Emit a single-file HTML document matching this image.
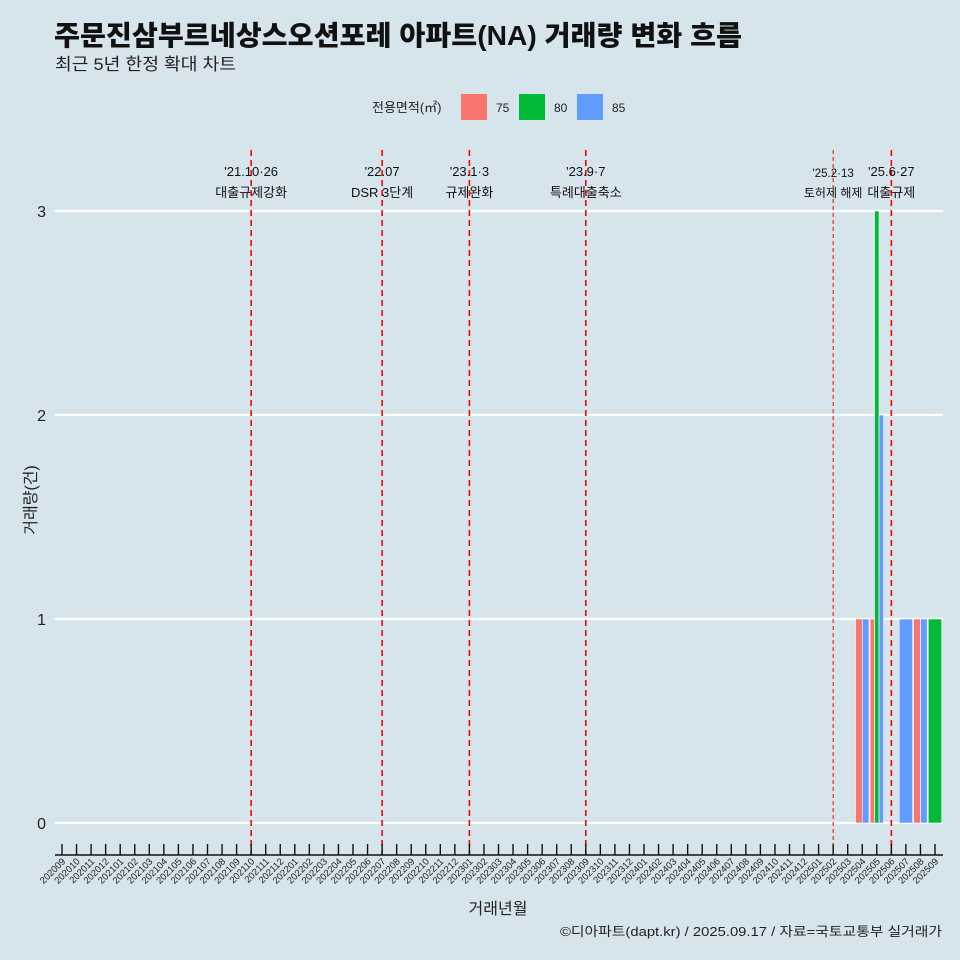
<!DOCTYPE html>
<html><head><meta charset="utf-8"><style>
body{margin:0;background:#d6e4eb;}
svg{display:block;font-family:"Liberation Sans","Noto Sans CJK KR",sans-serif;}
</style></head><body>
<svg width="960" height="960" viewBox="0 0 960 960">
<rect x="0" y="0" width="960" height="960" fill="#d6e4eb"/>
<text x="54" y="45" font-size="27.5" font-weight="900" fill="#111" textLength="688" lengthAdjust="spacingAndGlyphs">주문진삼부르네상스오션포레 아파트(NA) 거래량 변화 흐름</text>
<text x="55" y="70" font-size="17" fill="#222" textLength="181" lengthAdjust="spacingAndGlyphs">최근 5년 한정 확대 차트</text>
<g>
<text x="372" y="112" font-size="13" fill="#222">전용면적(㎡)</text>
<rect x="461" y="94" width="26" height="26" fill="#f8766d"/>
<text x="496" y="112" font-size="12" fill="#222">75</text>
<rect x="519" y="94" width="26" height="26" fill="#00ba38"/>
<text x="554" y="112" font-size="12" fill="#222">80</text>
<rect x="577" y="94" width="26" height="26" fill="#619cff"/>
<text x="612" y="112" font-size="12" fill="#222">85</text>
</g>
<g id="grid"></g><g id="bars"></g><g id="events"></g><g id="xaxis"></g>
<text x="36" y="500" font-size="16" fill="#222" transform="rotate(-90 36 500)" text-anchor="middle">거래량(건)</text>
<text x="498" y="914" font-size="16" fill="#222" text-anchor="middle">거래년월</text>
<text x="942" y="936" font-size="13" fill="#222" text-anchor="end" textLength="382" lengthAdjust="spacingAndGlyphs">©디아파트(dapt.kr) / 2025.09.17 / 자료=국토교통부 실거래가</text>
</svg>
<script>
const months=[];for(let y=2020;y<=2025;y++)for(let m=1;m<=12;m++){const k=y*100+m;if(k>=202009&&k<=202509)months.push(String(k));}
const yTicks=[0,1,2,3];
const bar75=[["202504",1],["202505",1],["202508",1]];
const bar80=[["202505",3],["202509",1]];
const bar85=[["202504",1],["202505",2],["202507",1],["202508",1]];
const eventMonths=["202110","202207","202301","202309","202502","202506"];
const eventDates=["'21.10·26","'22.07","'23.1·3","'23.9·7","'25.2·13","'25.6·27"];
const eventNames=["대출규제강화","DSR 3단계","규제완화","특례대출축소","토허제 해제","대출규제"];
const NS="http://www.w3.org/2000/svg";
const x0=62,step=14.55;
const xs=m=>x0+months.indexOf(m)*step;
const ys=v=>823-v*204;
function mk(t,a,p){const e=document.createElementNS(NS,t);for(const k in a)e.setAttribute(k,a[k]);document.getElementById(p).appendChild(e);return e;}
yTicks.forEach(v=>{
 const l=mk("line",{x1:55,x2:943,y1:ys(v),y2:ys(v),stroke:"#fff","stroke-width":2.2},"grid");
 
 
 const t=mk("text",{x:46,y:ys(v)+6,"font-size":16,"text-anchor":"end",fill:"#222"},"grid");
 t.textContent=v;
 
 
});
const series=[["75",bar75,"#f8766d"],["80",bar80,"#00ba38"],["85",bar85,"#619cff"]];
months.forEach(m=>{
 const present=series.filter(s=>s[1].some(d=>d[0]===m));
 const n=present.length;if(!n)return;
 const w=13.5/n;
 present.forEach((s,i)=>{
  const v=s[1].find(d=>d[0]===m)[1];
  const r=mk("rect",{x:xs(m)-6.75+i*w,y:ys(v),width:w,height:ys(0)-ys(v),fill:s[2],stroke:"#fff","stroke-width":0.6},"bars");
  
  
 });
});
eventMonths.forEach((m,i)=>{
 const x=xs(m);const thin=m==="202502";
 const l=mk("line",{x1:x,x2:x,y1:150,y2:855,stroke:"#ff0000","stroke-width":thin?1:1.6,"stroke-dasharray":thin?"4 3":"6 4"},"events");
 
 
 const t1=mk("text",{x:x,y:thin?177:176,"font-size":thin?11.5:13,"text-anchor":"middle",fill:"#111"},"events");
 t1.textContent=eventDates[i];
 
 
 const t2=mk("text",{x:x,y:197,"font-size":thin?12:13,"text-anchor":"middle",fill:"#111"},"events");
 t2.textContent=eventNames[i];
 
 
});
const ax=mk("line",{x1:55,x2:943,y1:855,y2:855,stroke:"#111","stroke-width":1.4},"xaxis");


months.forEach(m=>{
 const x=xs(m);
 const tk=mk("line",{x1:x,x2:x,y1:844,y2:855,stroke:"#111","stroke-width":1.4},"xaxis");
 
 
 const t=mk("text",{x:x+4,y:862,"font-size":9.5,"text-anchor":"end",fill:"#222",transform:`rotate(-45 ${x+4} 862)`},"xaxis");
 t.textContent=m;
 
 
});
</script>
</body></html>
